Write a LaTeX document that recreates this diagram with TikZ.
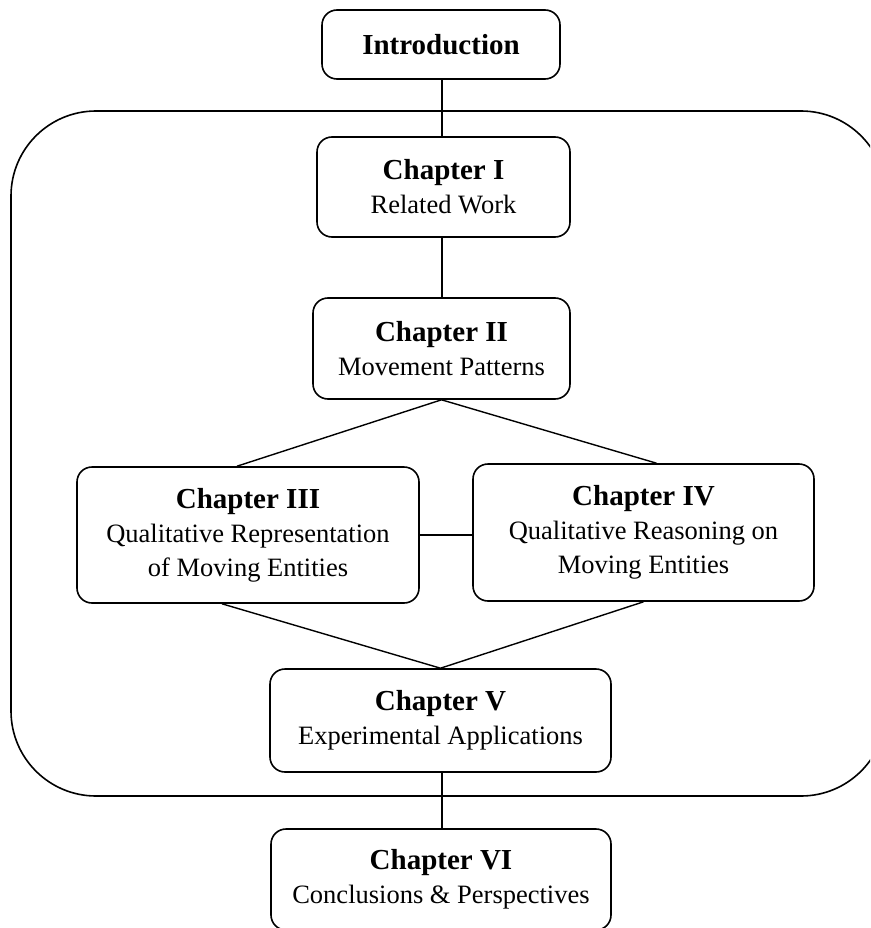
\documentclass[tikz,border=0pt]{standalone}
\usepackage{fontspec}
\setmainfont{Liberation Serif}
\usetikzlibrary{calc}
\tikzset{
  chapbox/.style={draw, line width=1.6pt, rounded corners=15pt, inner sep=0pt,
    align=center, font=\fontsize{26.5}{34}\selectfont, fill=white},
  conn/.style={line width=1.4pt},
  frame/.style={line width=1.6pt, rounded corners=85pt}
}
\newcommand{\ttl}[1]{{\fontsize{29}{34}\selectfont\bfseries #1}}
\begin{document}
\begin{tikzpicture}[x=1pt,y=-1pt]
\useasboundingbox (0,0) rectangle (870,928);
\clip (0,0) rectangle (870,928);
\draw[frame] (11,111) rectangle (886,796);
\node[chapbox, minimum width=238pt, minimum height=69pt] (intro) at (441,44.5) {\ttl{Introduction}};
\node[chapbox, minimum width=253pt, minimum height=100pt] (ch1) at (443.5,187) {\ttl{Chapter I}\\Related Work};
\node[chapbox, minimum width=257pt, minimum height=101pt] (ch2) at (441.5,348.5) {\ttl{Chapter II}\\Movement Patterns};
\node[chapbox, minimum width=342pt, minimum height=136pt] (ch3) at (248,535) {\ttl{Chapter III}\\Qualitative Representation\\of Moving Entities};
\node[chapbox, minimum width=341pt, minimum height=137pt] (ch4) at (643.5,532.5) {\ttl{Chapter IV}\\Qualitative Reasoning on\\Moving Entities};
\node[chapbox, minimum width=341pt, minimum height=103pt] (ch5) at (440.5,720.5) {\ttl{Chapter V}\\Experimental Applications};
\node[chapbox, minimum width=340pt, minimum height=101pt] (ch6) at (441,879.5) {\ttl{Chapter VI}\\Conclusions \& Perspectives};
\draw[conn] (intro.south -| ch1.north) ++(-1.5,0) coordinate (i1) -- (i1 |- ch1.north);
\draw[conn] ([xshift=-1.5pt]ch1.south) -- ([xshift=-1.5pt]ch1.south |- ch2.north);
\draw[conn] ([xshift=-11pt]ch3.north) -- (ch2.south) -- ([xshift=13pt]ch4.north);
\draw[conn] ([xshift=-26pt]ch3.south) -- (ch5.north) -- (ch4.south);
\draw[conn] (ch3.east) -- (ch3.east -| ch4.west);
\draw[conn] ([xshift=1.5pt]ch5.south) -- ([xshift=1.5pt]ch5.south |- ch6.north);
\end{tikzpicture}
\end{document}
